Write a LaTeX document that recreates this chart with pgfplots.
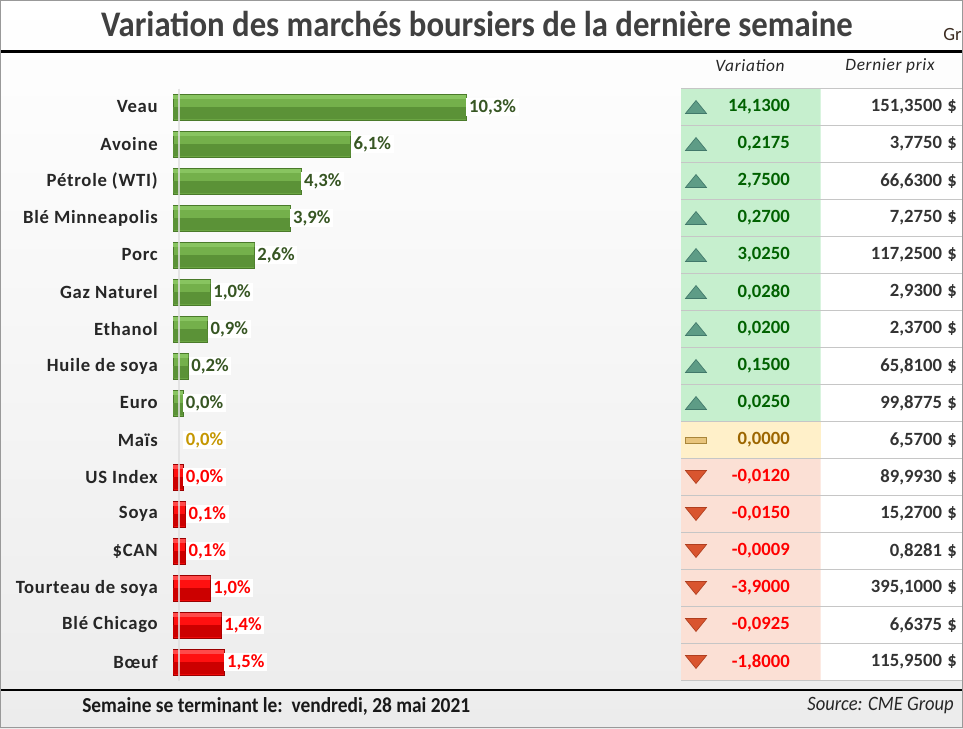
\documentclass[border=0pt]{standalone}
\usepackage{pgfplots}
\pgfplotsset{compat=1.18}
\usepackage{pgfplotstable}
\usepackage{fontspec}
\setmainfont{Carlito}
\newfontfamily\lblfont[LetterSpace=4]{Carlito}
\newfontfamily\condfont[FakeStretch=0.91]{Carlito}

\definecolor{gbase}{HTML}{74B04B}
\definecolor{ghi}{HTML}{88C460}
\definecolor{glo}{HTML}{5B9237}
\definecolor{gedge}{HTML}{4A7A2A}
\definecolor{glab}{HTML}{375623}
\definecolor{rbase}{HTML}{FF1010}
\definecolor{rhi}{HTML}{FF4A4A}
\definecolor{rlo}{HTML}{CC0000}
\definecolor{redge}{HTML}{9A0000}
\definecolor{ylab}{HTML}{C59700}
\definecolor{cgreen}{HTML}{C6EFCE}
\definecolor{cyellow}{HTML}{FFF0C9}
\definecolor{cred}{HTML}{FBE0D5}
\definecolor{upfill}{HTML}{5E9C86}
\definecolor{updraw}{HTML}{41786A}
\definecolor{dnfill}{HTML}{D9552F}
\definecolor{dndraw}{HTML}{B03E1E}
\definecolor{eqfill}{HTML}{E8C47C}
\definecolor{eqdraw}{HTML}{A9863A}
\definecolor{vgreen}{HTML}{006100}
\definecolor{vyellow}{HTML}{9C6500}
\definecolor{vred}{HTML}{FF0000}
\definecolor{price}{HTML}{333333}
\definecolor{titlec}{HTML}{404040}
\definecolor{bgbot}{HTML}{ECECEC}
\definecolor{grc}{HTML}{3B2B20}

% variation en % (valeur absolue), par ligne du haut vers le bas
\pgfplotstableread{
row v lab
0 10.3 {10,3\%}
1 6.1 {6,1\%}
2 4.3 {4,3\%}
3 3.9 {3,9\%}
4 2.6 {2,6\%}
5 1.0 {1,0\%}
6 0.9 {0,9\%}
7 0.2 {0,2\%}
8 0.0 {0,0\%}
}\hausse
\pgfplotstableread{
row v lab
9 0.0 {0,0\%}
}\stable
\pgfplotstableread{
row v lab
10 0.0 {0,0\%}
11 0.1 {0,1\%}
12 0.1 {0,1\%}
13 1.0 {1,0\%}
14 1.4 {1,4\%}
15 1.5 {1,5\%}
}\baisse

% tableau de droite
\pgfplotstableread{
row var prix
0 {14,1300} {151,3500\hspace{4pt}\$}
1 {0,2175} {3,7750\hspace{4pt}\$}
2 {2,7500} {66,6300\hspace{4pt}\$}
3 {0,2700} {7,2750\hspace{4pt}\$}
4 {3,0250} {117,2500\hspace{4pt}\$}
5 {0,0280} {2,9300\hspace{4pt}\$}
6 {0,0200} {2,3700\hspace{4pt}\$}
7 {0,1500} {65,8100\hspace{4pt}\$}
8 {0,0250} {99,8775\hspace{4pt}\$}
9 {0,0000} {6,5700\hspace{4pt}\$}
10 {-0,0120} {89,9930\hspace{4pt}\$}
11 {-0,0150} {15,2700\hspace{4pt}\$}
12 {-0,0009} {0,8281\hspace{4pt}\$}
13 {-3,9000} {395,1000\hspace{4pt}\$}
14 {-0,0925} {6,6375\hspace{4pt}\$}
15 {-1,8000} {115,9500\hspace{4pt}\$}
}\cours

\pgfplotsset{
  barlab/.style={point meta=explicit symbolic, nodes near coords,
    every node near coord/.append style={anchor=west, font=\bfseries\fontsize{14}{16}\selectfont, text=#1, fill=white, inner xsep=2pt, inner ysep=1pt}},
  celltxt/.style={only marks, mark=none, point meta=explicit symbolic, nodes near coords,
    every node near coord/.append style={anchor=east, inner sep=0pt, font=\bfseries\fontsize{14}{16}\selectfont, text=#1}},
}

\begin{document}
\begin{tikzpicture}[x=0.75pt,y=0.75pt]
\path[use as bounding box] (0,0) rectangle (963,728);
\shade[top color=white, bottom color=bgbot] (0,0) rectangle (963,728);

\node[font=\condfont\bfseries\fontsize{27}{30}\selectfont, text=titlec] at (477,704)
  {Variation des marchés boursiers de la dernière semaine};
\node[font=\fontsize{14}{16}\selectfont, text=grc, anchor=west, inner sep=0pt] at (943,693) {Gr};
\draw[line width=2.25pt] (0,676) -- (963,676);

\begin{axis}[
  at={(129.75pt,479.625pt)}, anchor=north west,
  scale only axis, width=371.25pt, height=444pt,
  xmin=0, xmax=18, ymin=-0.5, ymax=15.5, y dir=reverse,
  axis line style={draw=none},
  xtick=\empty,
  ytick={0,...,15},
  yticklabels={Veau,Avoine,Pétrole (WTI),Blé Minneapolis,Porc,Gaz Naturel,Ethanol,Huile de soya,Euro,Maïs,US Index,Soya,\$CAN,Tourteau de soya,Blé Chicago,Bœuf},
  ytick style={draw=none},
  yticklabel style={font=\lblfont\bfseries\fontsize{14}{16}\selectfont, text=black!85, inner sep=0pt, xshift=-11.25pt},
  clip=false,
]
% barres vertes (effet biseau : moitié basse plus sombre, filet clair en haut)
\addplot[xbar, bar shift=0pt, bar width=0.7, fill=gbase, draw=gedge, line width=0.5pt, barlab=glab]
  table[x expr=\thisrow{v}+0.36, y=row, meta=lab] {\hausse};
\addplot[xbar, bar shift=0.17, bar width=0.33, fill=glo, draw=none]
  table[x expr=\thisrow{v}+0.36, y=row] {\hausse};
\addplot[xbar, bar shift=-0.27, bar width=0.1, fill=ghi, draw=none]
  table[x expr=\thisrow{v}+0.36, y=row] {\hausse};
% maïs : pas de barre
\addplot[xbar, bar shift=0pt, bar width=0.7, draw=none, fill=none, barlab=ylab]
  table[x expr=\thisrow{v}+0.36, y=row, meta=lab] {\stable};
% barres rouges
\addplot[xbar, bar shift=0pt, bar width=0.7, fill=rbase, draw=redge, line width=0.5pt, barlab=vred]
  table[x expr=\thisrow{v}+0.36, y=row, meta=lab] {\baisse};
\addplot[xbar, bar shift=0.17, bar width=0.33, fill=rlo, draw=none]
  table[x expr=\thisrow{v}+0.36, y=row] {\baisse};
\addplot[xbar, bar shift=-0.27, bar width=0.1, fill=rhi, draw=none]
  table[x expr=\thisrow{v}+0.36, y=row] {\baisse};
\addplot[draw=white!75!gray, line width=1pt, opacity=0.8] coordinates {(0.218,-0.5) (0.218,15.5)};
\end{axis}

\begin{axis}[
  at={(510.75pt,479.625pt)}, anchor=north west,
  scale only axis, width=211.5pt, height=444pt,
  xmin=681, xmax=963, ymin=-0.5, ymax=15.5, y dir=reverse,
  axis line style={draw=none},
  xtick=\empty,
  ytick={-0.5,0.5,...,15.5},
  yticklabels={},
  major tick length=0pt,
  ymajorgrids,
  major grid style={draw=gray!45, line width=0.75pt},
  extra y ticks={4.5,5.5,15.5},
  extra y tick labels={},
  extra y tick style={grid style={draw=gray!75, line width=1.2pt}},
  axis on top,
]
\addplot[xbar, bar shift=0pt, bar width=1, fill=white, draw=none]
  table[x expr=963, y=row] {\cours};
\addplot[xbar, bar shift=0pt, bar width=1, fill=cgreen, draw=none, restrict y to domain=0:8]
  table[x expr=820.5, y=row] {\cours};
\addplot[xbar, bar shift=0pt, bar width=1, fill=cyellow, draw=none, restrict y to domain=9:9]
  table[x expr=820.5, y=row] {\cours};
\addplot[xbar, bar shift=0pt, bar width=1, fill=cred, draw=none, restrict y to domain=10:15]
  table[x expr=820.5, y=row] {\cours};

\addplot[only marks, mark=triangle*, mark size=9.1pt, restrict y to domain=0:8,
  mark options={yshift=-1.6pt, yscale=0.71, fill=upfill, draw=updraw, line width=0.5pt}]
  table[x expr=696, y=row] {\cours};
\addplot[only marks, mark=square*, mark size=7.9pt, restrict y to domain=9:9,
  mark options={yscale=0.29, fill=eqfill, draw=eqdraw, line width=0.5pt}]
  table[x expr=696, y=row] {\cours};
\addplot[only marks, mark=triangle*, mark size=9.1pt, restrict y to domain=10:15,
  mark options={rotate=180, yshift=-1.6pt, yscale=0.71, fill=dnfill, draw=dndraw, line width=0.5pt}]
  table[x expr=696, y=row] {\cours};

\addplot[celltxt=vgreen, restrict y to domain=0:8] table[x expr=790, y=row, meta=var] {\cours};
\addplot[celltxt=vyellow, restrict y to domain=9:9] table[x expr=790, y=row, meta=var] {\cours};
\addplot[celltxt=vred, restrict y to domain=10:15] table[x expr=790, y=row, meta=var] {\cours};
\addplot[celltxt=price] table[x expr=957, y=row, meta=prix] {\cours};
\end{axis}

\node[font=\lblfont\itshape\fontsize{13}{15}\selectfont, text=black!85] at (750,662) {Variation};
\node[font=\lblfont\itshape\fontsize{13}{15}\selectfont, text=black!85] at (890,662) {Dernier prix};

\draw[line width=1.5pt] (0,38) -- (963,38);
\node[anchor=west, inner sep=0pt, font=\condfont\bfseries\fontsize{16}{18}\selectfont, text=black!90] at (82,22)
  {Semaine se terminant le:\ \ vendredi, 28 mai 2021};
\node[anchor=east, inner sep=0pt, font=\condfont\itshape\fontsize{15.3}{17}\selectfont, text=black!85] at (954,22)
  {Source: CME Group};
\draw[gray!80, line width=1pt] (0.7,0.7) rectangle (962.3,727.3);
\end{tikzpicture}
\end{document}
